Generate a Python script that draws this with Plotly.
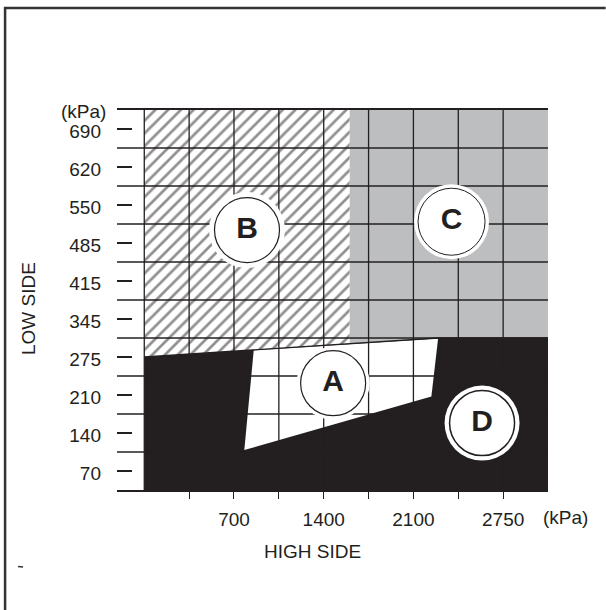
import plotly.graph_objects as go

# ---- data (grid units: x = HIGH SIDE columns, y = LOW SIDE rows) ----
low_tick_vals = [0.5, 1.5, 2.5, 3.5, 4.5, 5.5, 6.5, 7.5, 8.5, 9.5]
low_tick_text = ["70", "140", "210", "275", "345", "415", "485", "550", "620", "690"]
high_tick_vals = [1, 2, 3, 4, 5, 6, 7, 8]
high_tick_text = ["", "700", "", "1400", "", "2100", "", "2750"]

grid_x = [0, 1, 2, 3, 4, 5, 6, 7, 8]
grid_y = [1, 2, 3, 4, 5, 6, 7, 8, 9]

region_b_x = [0, 4.58, 4.58, 0]
region_b_y = [10, 10, 3.85, 3.5]
region_c_x = [4.58, 9, 9, 6.55, 4.58]
region_c_y = [10, 10, 4.0, 4.0, 3.85]
region_d_x = [0, 6.55, 9, 9, 0]
region_d_y = [3.5, 4.0, 4.0, 0, 0]
region_a_x = [2.44, 6.55, 6.40, 2.23]
region_a_y = [3.68, 3.99, 2.46, 1.05]

label_names = ["A", "B", "C", "D"]
label_x = [4.21, 2.29, 6.85, 7.53]
label_y = [2.81, 6.84, 7.06, 1.76]

# ---- layout geometry ----
W, H = 606, 610
L, R, T, B = 117, 548.3, 110, 490
UNIT_X = 44.9
X0 = 144.3
x_min = (L - X0) / UNIT_X
x_max = 9

INK = "#231f20"
GREY = "#bcbec0"
FONT = "Liberation Sans, Arial, sans-serif"
FS = 19


def px(xp):
    return (xp - L) / (R - L)


def py(yp):
    return (B - yp) / (B - T)


fig = go.Figure()

# regions
fig.add_trace(go.Scatter(x=region_b_x + [region_b_x[0]], y=region_b_y + [region_b_y[0]],
                         mode="lines", line=dict(width=0), fill="toself",
                         fillcolor="white",
                         fillpattern=dict(shape="/", fgcolor=INK, bgcolor="white",
                                          size=9, solidity=0.3),
                         hoverinfo="skip", showlegend=False))
fig.add_trace(go.Scatter(x=region_c_x + [region_c_x[0]], y=region_c_y + [region_c_y[0]],
                         mode="lines", line=dict(width=0), fill="toself",
                         fillcolor=GREY, hoverinfo="skip", showlegend=False))
fig.add_trace(go.Scatter(x=region_d_x + [region_d_x[0]], y=region_d_y + [region_d_y[0]],
                         mode="lines", line=dict(width=0), fill="toself",
                         fillcolor=INK, hoverinfo="skip", showlegend=False))
fig.add_trace(go.Scatter(x=region_a_x + [region_a_x[0]], y=region_a_y + [region_a_y[0]],
                         mode="lines", line=dict(width=0), fill="toself",
                         fillcolor="white", hoverinfo="skip", showlegend=False))

# grid lines
gx, gy = [], []
for v in grid_x:
    gx += [v, v, None]
    gy += [0, 10, None]
for h in grid_y:
    gx += [x_min, x_max, None]
    gy += [h, h, None]
fig.add_trace(go.Scatter(x=gx, y=gy, mode="lines", line=dict(color=INK, width=1.3),
                         hoverinfo="skip", showlegend=False))

# boundary line of black region / A top
fig.add_trace(go.Scatter(x=region_d_x[:3], y=region_d_y[:3], mode="lines",
                         line=dict(color=INK, width=1.3), hoverinfo="skip", showlegend=False))

# circle halos and circles
halo_sizes = [73, 76, 75, 75]
circle_sizes = [65, 65, 67, 65]
circle_lines = [1.2, 1.2, 1.0, 1.5]
fig.add_trace(go.Scatter(x=label_x, y=label_y, mode="markers",
                         marker=dict(size=halo_sizes, color="white", opacity=1,
                                     line=dict(width=0)),
                         hoverinfo="skip", showlegend=False, cliponaxis=False))
fig.add_trace(go.Scatter(x=label_x, y=label_y, mode="markers+text", text=label_names,
                         textposition="middle center",
                         textfont=dict(family=FONT, size=30, color=INK, weight="bold"),
                         marker=dict(size=circle_sizes, color="white", opacity=1,
                                     line=dict(width=circle_lines, color=INK)),
                         hoverinfo="skip", showlegend=False, cliponaxis=False))

fig.update_layout(
    width=W, height=H,
    margin=dict(l=L, r=W - R, t=T, b=H - B),
    paper_bgcolor="white", plot_bgcolor="white",
    font=dict(family=FONT, size=FS, color=INK),
    xaxis=dict(range=[x_min, x_max], showgrid=False, zeroline=False,
               showline=True, linecolor=INK, linewidth=1.5, mirror=True,
               ticks="outside", ticklen=7, tickwidth=1.3, tickcolor=INK,
               tickvals=high_tick_vals, ticktext=high_tick_text,
               tickfont=dict(size=FS, color=INK), ticklabelstandoff=4,
               fixedrange=True),
    yaxis=dict(range=[0, 10], showgrid=False, zeroline=False, showline=False,
               ticks="inside", ticklen=15, tickwidth=1.5, tickcolor=INK,
               tickvals=low_tick_vals, ticktext=low_tick_text,
               tickfont=dict(size=FS, color=INK), ticklabelstandoff=15,
               ticklabelshift=2, fixedrange=True),
    showlegend=False,
)

annots = [
    dict(text="(kPa)", x=px(108), y=py(111), xanchor="right", yanchor="middle"),
    dict(text="(kPa)", x=px(565.5), y=py(517), xanchor="center", yanchor="middle"),
    dict(text="HIGH SIDE", x=px(313), y=py(551.7), xanchor="center", yanchor="middle"),
    dict(text="LOW SIDE", x=px(28), y=py(309), xanchor="center", yanchor="middle",
         textangle=-90),
]
for a in annots:
    fig.add_annotation(xref="paper", yref="paper", showarrow=False,
                       font=dict(family=FONT, size=FS, color=INK), **a)

# page frame (top and left edges) and small stray mark
fig.add_shape(type="line", xref="paper", yref="paper", x0=px(4), x1=px(606), y0=py(8), y1=py(8),
              line=dict(color="#333333", width=2.5))
fig.add_shape(type="line", xref="paper", yref="paper", x0=px(5), x1=px(5), y0=py(7), y1=py(610),
              line=dict(color="#333333", width=2.5))
fig.add_shape(type="line", xref="paper", yref="paper", x0=px(18), x1=px(23), y0=py(566.5), y1=py(567),
              line=dict(color="#333333", width=1.5))

fig.write_html("out.html", config={"displayModeBar": False},
               post_script="document.body.style.margin='0';")
